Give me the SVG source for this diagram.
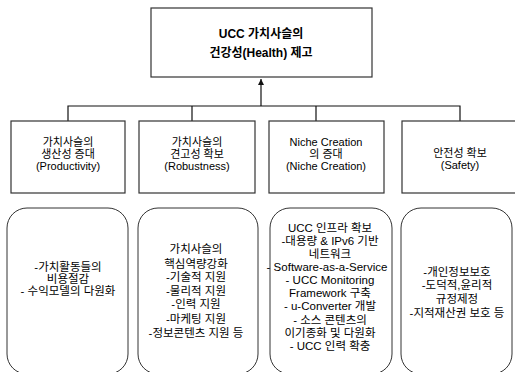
<svg xmlns="http://www.w3.org/2000/svg" width="515" height="372" viewBox="0 0 515 372">
<style>
.box{fill:#fff;stroke:#333;stroke-width:1.2}
.rbox{fill:#fff;stroke:#333;stroke-width:1}
.conn{fill:none;stroke:#111;stroke-width:1.2}
text{font-family:"Liberation Sans","Noto Sans CJK KR",sans-serif;font-size:11.5px;fill:#000;text-anchor:middle}
.h{font-size:11px}
.t{font-size:12px;font-weight:bold}
</style>
<defs>
<marker id="arr" markerWidth="8" markerHeight="8" refX="6" refY="3" orient="auto" markerUnits="userSpaceOnUse">
<path d="M0,0 L6,3 L0,6 Z" fill="#111"/>
</marker>
</defs>
<rect width="515" height="372" fill="#fff"/>
<g id="connectors">
<path class="conn" d="M68,121 V106 H460 V121 M192,106 V121 M316,106 V121"/>
<line class="conn" x1="261" y1="106" x2="261" y2="79" marker-end="url(#arr)"/>
</g>
<g id="top">
<rect class="box" x="151" y="8" width="221" height="69"/>
<text class="t" x="261" y="38">UCC 가치사슬의</text>
<text class="t" x="261" y="57">건강성(Health) 제고</text>
</g>
<g id="n1">
<rect class="box" x="11" y="121" width="114" height="72"/>
<text class="h" x="68" y="146">가치사슬의</text>
<text class="h" x="68" y="158">생산성 증대</text>
<text class="h" x="68" y="170">(Productivity)</text>
</g>
<g id="n2">
<rect class="box" x="139" y="121" width="116" height="72"/>
<text class="h" x="197" y="146">가치사슬의</text>
<text class="h" x="197" y="158">견고성 확보</text>
<text class="h" x="197" y="170">(Robustness)</text>
</g>
<g id="n3">
<rect class="box" x="269" y="121" width="115" height="72"/>
<text class="h" x="326" y="146">Niche Creation</text>
<text class="h" x="326" y="158">의 증대</text>
<text class="h" x="326" y="170">(Niche Creation)</text>
</g>
<g id="n4">
<rect class="box" x="402" y="121" width="120" height="72"/>
<text class="h" x="460" y="157">안전성 확보</text>
<text class="h" x="460" y="169">(Safety)</text>
</g>
<g id="b1">
<rect class="rbox" x="7" y="208" width="121" height="166" rx="20"/>
<text x="68" y="271">-가치활동들의</text>
<text x="68" y="283">비용절감</text>
<text x="68" y="295">- 수익모델의 다원화</text>
</g>
<g id="b2">
<rect class="rbox" x="138" y="208" width="120" height="166" rx="20"/>
<text x="196" y="253">가치사슬의</text>
<text x="196" y="268">핵심역량강화</text>
<text x="196" y="281">-기술적 지원</text>
<text x="196" y="295">-물리적 지원</text>
<text x="196" y="308">-인력 지원</text>
<text x="196" y="323">-마케팅 지원</text>
<text x="196" y="337">-정보콘텐츠 지원 등</text>
</g>
<g id="b3">
<rect class="rbox" x="270" y="208" width="122" height="166" rx="20"/>
<text x="330" y="232">UCC 인프라 확보</text>
<text x="330" y="245">-대용량 &amp; IPv6 기반</text>
<text x="330" y="258">네트워크</text>
<text x="327" y="271">- Software-as-a-Service</text>
<text x="330" y="284">- UCC Monitoring</text>
<text x="330" y="297">Framework 구축</text>
<text x="330" y="310">- u-Converter 개발</text>
<text x="330" y="324">- 소스 콘텐츠의</text>
<text x="330" y="337">이기종화 및 다원화</text>
<text x="330" y="350">- UCC 인력 확충</text>
</g>
<g id="b4">
<rect class="rbox" x="401" y="208" width="111" height="166" rx="20"/>
<text x="457" y="276">-개인정보보호</text>
<text x="457" y="289">-도덕적,윤리적</text>
<text x="457" y="303">규정제정</text>
<text x="457" y="317">-지적재산권 보호 등</text>
</g>
</svg>
